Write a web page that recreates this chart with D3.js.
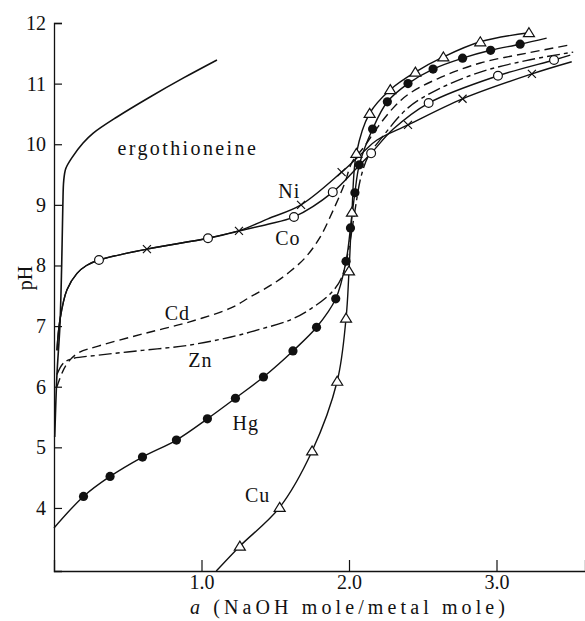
<!DOCTYPE html>
<html><head><meta charset="utf-8">
<script src="https://cdn.jsdelivr.net/npm/d3@7"></script>
<style>
html,body{margin:0;padding:0;background:#fff;}
svg text{font-family:"Liberation Serif","DejaVu Serif",serif;fill:#111;}
</style></head>
<body><svg id="c" width="585" height="621"></svg>
<script>
// ---- data (a = NaOH mole / metal mole, pH) ----
const xTickValues = [1.0, 2.0, 3.0];
const yTickValues = [4, 5, 6, 7, 8, 9, 10, 11, 12];

const ergoLine = [[0.005,5.17],[0.02,6.2],[0.04,7.0],[0.052,8.0],[0.06,9.0],[0.066,9.4],[0.08,9.6],[0.122,9.78],[0.197,10.02],[0.264,10.18],[0.427,10.45],[0.651,10.78],[0.875,11.09],[1.105,11.39]];

const niLine = [[0.02,6.6],[0.04,7.1],[0.088,7.6],[0.156,7.87],[0.22,8.0],[0.305,8.09],[0.63,8.27],[1.044,8.45],[1.254,8.57],[1.45,8.77],[1.675,9.0],[1.95,9.54],[2.1,9.88],[2.19,10.07],[2.4,10.32],[2.77,10.75],[3.24,11.16],[3.51,11.36]];
const niMarks = [[0.63,8.27],[1.254,8.57],[1.675,9.0],[1.95,9.54],[2.4,10.32],[2.77,10.75],[3.24,11.16]];

const coLine = [[0.02,6.6],[0.04,7.1],[0.088,7.6],[0.156,7.87],[0.22,8.0],[0.305,8.09],[0.63,8.27],[1.044,8.45],[1.254,8.57],[1.45,8.68],[1.627,8.8],[1.89,9.21],[2.05,9.6],[2.15,9.85],[2.3,10.25],[2.54,10.68],[3.01,11.13],[3.39,11.39],[3.5,11.47]];
const coMarks = [[0.305,8.09],[1.044,8.45],[1.627,8.8],[1.89,9.21],[2.15,9.85],[2.54,10.68],[3.01,11.13],[3.39,11.39]];

const cdLine = [[0.02,6.0],[0.08,6.35],[0.16,6.55],[0.3,6.67],[0.6,6.87],[0.92,7.07],[1.2,7.3],[1.33,7.48],[1.5,7.72],[1.6,7.9],[1.7,8.12],[1.8,8.45],[1.9,8.95],[1.97,9.35],[2.02,9.7],[2.1,9.95],[2.2,10.3],[2.3,10.6],[2.4,10.82],[2.6,11.08],[2.89,11.34],[3.2,11.5],[3.5,11.64]];

const znLine = [[0.02,6.2],[0.06,6.38],[0.12,6.46],[0.3,6.52],[0.6,6.6],[0.9,6.68],[1.2,6.82],[1.4,6.95],[1.6,7.1],[1.75,7.3],[1.88,7.55],[1.95,7.8],[2.0,8.3],[2.04,8.9],[2.08,9.45],[2.13,9.8],[2.22,10.1],[2.4,10.6],[2.6,10.9],[2.89,11.19],[3.2,11.38],[3.52,11.52]];

const hgLine = [[0,3.67],[0.2,4.19],[0.38,4.52],[0.6,4.84],[0.83,5.12],[1.04,5.47],[1.23,5.81],[1.42,6.16],[1.62,6.59],[1.78,6.98],[1.91,7.45],[1.98,8.07],[2.01,8.62],[2.04,9.2],[2.07,9.66],[2.16,10.25],[2.26,10.7],[2.4,11.0],[2.57,11.24],[2.77,11.42],[2.96,11.55],[3.16,11.65],[3.34,11.75]];
const hgMarks = hgLine.slice(1, -1);

const cuLine = [[1.1,2.96],[1.26,3.37],[1.53,4.01],[1.75,4.94],[1.92,6.09],[1.98,7.13],[2.0,7.91],[2.02,8.88],[2.05,9.85],[2.14,10.51],[2.28,10.9],[2.45,11.19],[2.64,11.44],[2.89,11.69],[3.22,11.84]];
const cuMarks = cuLine.slice(1);

const labels = [
  {t:"ergothioneine", a:0.43, ph:9.82},
  {t:"Ni", a:1.52, ph:9.12},
  {t:"Co", a:1.5, ph:8.33},
  {t:"Cd", a:0.75, ph:7.1},
  {t:"Zn", a:0.91, ph:6.33},
  {t:"Hg", a:1.21, ph:5.29},
  {t:"Cu", a:1.295, ph:4.1}
];

// ---- chart ----
const svg = d3.select("#c");
const x = d3.scaleLinear().domain([0, 3.6]).range([54, 585]);
const y = d3.scaleLinear().domain([2.96, 12]).range([571, 23]);

// axes
const xAxis = d3.axisBottom(x).tickValues(xTickValues).tickSize(-11).tickFormat(d3.format(".1f")).tickPadding(4);
const gx = svg.append("g").attr("transform", `translate(0,${y(2.96)})`).call(xAxis);
const yAxis = d3.axisLeft(y).tickValues(yTickValues).tickSize(-8).tickPadding(6).tickFormat(d3.format("d"));
const gy = svg.append("g").attr("transform", `translate(${x(0)},0)`).call(yAxis);
[gx, gy].forEach(g => {
  g.select(".domain").attr("stroke", "#111").attr("stroke-width", 1.3);
  g.selectAll(".tick line").attr("stroke", "#111").attr("stroke-width", 1.2);
  g.selectAll(".tick text").attr("font-family", "Liberation Serif").attr("font-size", 20).attr("fill", "#111");
});
gy.selectAll(".tick text").attr("dx", -2);

// axis titles
svg.append("text").attr("x", 190).attr("y", 614).attr("font-size", 20)
  .attr("textLength", 315).attr("lengthAdjust", "spacing")
  .html('<tspan font-style="italic">a</tspan> (NaOH mole/metal mole)');
svg.append("text").attr("transform", "translate(32,278) rotate(-90)").attr("text-anchor", "middle")
  .attr("font-size", 20).text("pH");

// lines
const line = d3.line().x(d => x(d[0])).y(d => y(d[1])).curve(d3.curveCatmullRom.alpha(0.5));
const g = svg.append("g").attr("fill", "none").attr("stroke", "#111").attr("stroke-width", 1.4);
g.append("path").attr("d", line(ergoLine)).attr("stroke-width", 1.6);
g.append("path").attr("d", line(niLine));
g.append("path").attr("d", line(coLine));
g.append("path").attr("d", line(cdLine)).attr("stroke-dasharray", "9,5");
g.append("path").attr("d", line(znLine)).attr("stroke-dasharray", "13,4,4,4");
g.append("path").attr("d", line(hgLine));
g.append("path").attr("d", line(cuLine));

// markers
const m = svg.append("g");
m.selectAll(".co").data(coMarks).join("circle")
  .attr("cx", d => x(d[0])).attr("cy", d => y(d[1])).attr("r", 4.4)
  .attr("fill", "#fff").attr("stroke", "#111").attr("stroke-width", 1.2);
m.selectAll(".hg").data(hgMarks).join("circle")
  .attr("cx", d => x(d[0])).attr("cy", d => y(d[1])).attr("r", 4.6)
  .attr("fill", "#111");
m.selectAll(".ni").data(niMarks).join("path")
  .attr("d", d => { const cx = x(d[0]), cy = y(d[1]), s = 4;
    return `M${cx-s},${cy-s}L${cx+s},${cy+s}M${cx-s},${cy+s}L${cx+s},${cy-s}`; })
  .attr("stroke", "#111").attr("stroke-width", 1.2).attr("fill", "none");
m.selectAll(".cu").data(cuMarks).join("path")
  .attr("d", d => { const cx = x(d[0]), cy = y(d[1]);
    return `M${cx},${cy-5}L${cx+5.5},${cy+4}L${cx-5.5},${cy+4}Z`; })
  .attr("fill", "#fff").attr("stroke", "#111").attr("stroke-width", 1.2);

// curve labels
svg.append("g").selectAll("text").data(labels).join("text")
  .attr("x", d => x(d.a)).attr("y", d => y(d.ph))
  .attr("font-size", 20).attr("letter-spacing", d => d.t.length > 3 ? 2.4 : 1)
  .text(d => d.t);
</script></body></html>
